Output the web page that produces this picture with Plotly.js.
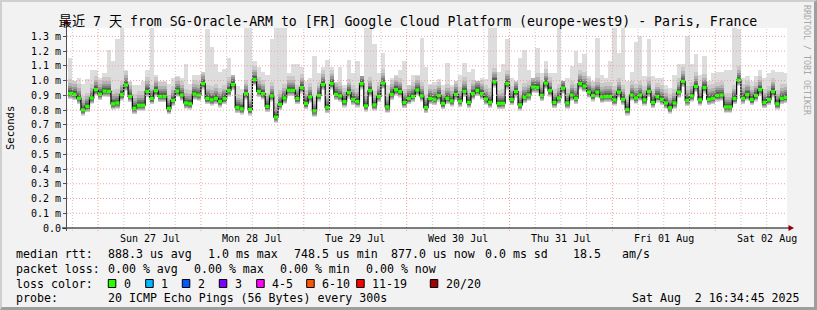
<!DOCTYPE html>
<html><head><meta charset="utf-8">
<script src="https://cdn.plot.ly/plotly-3.0.1.min.js"></script>
<style>
html,body{margin:0;padding:0;background:#f2f2f2;}
#wrap{position:relative;width:817px;height:310px;overflow:hidden}
#chart{width:817px;height:310px}
#frame{position:absolute;left:0;top:0;width:817px;height:310px;box-sizing:border-box;border-top:2px solid #cfcfcf;border-left:2px solid #cfcfcf;border-right:3px solid #9e9e9e;border-bottom:3px solid #9e9e9e;pointer-events:none}
</style></head><body>
<div id="wrap"><div id="chart"></div><div id="frame"></div></div>
<script>
// ---- data ----
const viewStart = '2025-07-26 16:45:00';
const viewEnd   = '2025-08-02 16:45:00';
const firstBinStart = '2025-07-26 17:00:00';
const binHours = 1;
// median rtt per hourly bin (ms)
const med = [
0.913,0.907,0.880,0.801,0.824,0.882,0.938,0.907,0.929,0.927,
0.842,0.848,0.904,0.970,0.893,0.812,0.833,0.833,0.927,0.878,
0.931,0.893,0.893,0.810,0.866,0.929,0.902,0.848,0.842,0.909,
0.902,0.979,0.878,0.869,0.880,0.857,0.878,0.931,0.974,0.817,
0.808,0.911,0.803,1.006,0.927,0.911,0.824,0.896,0.752,0.839,
0.882,0.934,0.934,0.878,0.952,0.844,0.889,0.794,0.898,0.974,
0.817,0.979,0.907,0.896,0.857,0.918,0.873,0.857,0.979,0.828,
0.931,0.835,0.893,0.983,0.821,0.907,0.938,0.925,0.851,0.878,
0.893,0.936,0.896,0.817,0.878,0.873,0.898,0.844,0.880,0.862,
0.907,0.860,0.927,0.851,0.911,0.934,0.911,0.875,0.853,0.992,
0.844,0.846,0.979,0.871,0.925,0.835,0.887,0.902,0.956,0.954,
0.900,0.983,0.931,0.851,0.882,0.949,0.848,0.902,0.880,0.979,
0.963,0.922,0.898,0.922,0.889,0.893,0.893,0.869,0.922,0.873,
0.803,0.902,0.882,0.902,0.869,0.927,0.851,0.891,0.873,0.848,
0.815,0.848,0.922,0.994,0.866,0.896,0.961,0.869,0.952,0.873,
0.880,0.898,0.902,0.821,0.821,0.878,1.003,0.880,0.904,0.871,
0.898,0.938,0.851,0.871,0.925,0.842,0.880,0.885];
// max rtt (top of smoke) per bin (ms)
const maxRtt = [
1.15,1.00,1.02,0.98,1.01,1.07,1.07,1.02,1.05,1.21,
1.13,1.28,1.36,1.07,1.00,0.97,0.97,1.00,1.07,1.36,
1.04,1.00,1.00,0.98,1.02,1.03,1.02,1.11,0.98,1.04,
1.04,1.06,1.35,1.23,1.11,1.06,1.08,1.15,1.04,0.96,
0.94,1.36,1.36,1.13,1.09,1.06,1.04,1.28,1.36,1.36,
1.36,1.05,1.11,1.11,1.09,1.00,1.02,1.17,1.05,1.09,
1.14,1.09,0.99,1.09,0.97,1.14,1.05,1.13,1.03,1.36,
1.36,1.25,1.05,1.19,0.97,1.02,1.035,1.07,1.13,0.97,
1.04,1.04,1.29,1.09,0.98,0.99,1.01,0.97,1.12,0.97,
1.00,1.04,1.12,1.06,1.08,1.00,1.02,1.01,1.36,1.36,
1.06,1.11,1.28,1.02,1.00,1.15,1.21,1.07,1.02,1.22,
1.05,1.13,1.05,1.05,1.36,1.00,1.02,1.10,1.20,1.12,
1.18,1.03,1.00,1.29,1.04,1.02,1.13,1.36,1.19,1.36,
1.00,1.06,1.26,1.30,1.03,1.28,1.03,1.02,1.02,0.97,
0.95,1.04,1.11,1.11,1.30,1.11,1.18,1.04,1.17,1.00,
1.05,1.06,1.06,1.07,1.07,1.36,1.35,1.02,1.03,1.00,
1.03,1.07,1.02,1.05,1.07,1.06,1.06,1.05];
const yTickVals = [0,0.1,0.2,0.3,0.4,0.5,0.6,0.7,0.8,0.9,1.0,1.1,1.2,1.3];
const yTickText = ['0.0','0.1 m','0.2 m','0.3 m','0.4 m','0.5 m','0.6 m','0.7 m','0.8 m','0.9 m','1.0 m','1.1 m','1.2 m','1.3 m'];
const dayLabels = ['Sun 27 Jul','Mon 28 Jul','Tue 29 Jul','Wed 30 Jul','Thu 31 Jul','Fri 01 Aug','Sat 02 Aug'];
const dayNoons = ['2025-07-27 12:00','2025-07-28 12:00','2025-07-29 12:00','2025-07-30 12:00','2025-07-31 12:00','2025-08-01 12:00','2025-08-02 12:00'];
const statRow1 = [['median rtt:',15.7],['888.3 us avg',107.3],['1.0 ms max',207],['748.5 us min',293.3],['877.0 us now',390],['0.0 ms sd',484],['18.5',572.7],['am/s',621]];
const statRow2 = [['packet loss:',15.7],['0.00 % avg',107.3],['0.00 % max',193.3],['0.00 % min',279.3],['0.00 % now',365.7]];
const lossLabels = ['0','1','2','3','4-5','6-10','11-19','20/20'];
const lossColors = ['#26ff00','#00b8ff','#0059ff','#7e00ff','#ff00ff','#ff5500','#ff0000','#a10000'];
const lossBoxX = [108.3,145.7,182.3,219.3,256.7,306.7,356.7,430.3];
const lossTextX = [123.3,160.7,197.7,234.7,271.7,321.7,371.7,445];
const probeText = '20 ICMP Echo Pings (56 Bytes) every 300s';
const dateText = 'Sat Aug\u00a0\u00a02 16:34:45 2025';
const titleText = '最近 7 天 from SG-Oracle-ARM to [FR] Google Cloud Platform (europe-west9) - Paris, France';

// ---- helpers ----
const MONO = 'DejaVu Sans Mono, Noto Sans CJK SC, monospace';
const L=67, R=787, T=28, B=228;
const px = p => (p-L)/(R-L);
const py = p => (B-p)/(B-T);
const toMs = s => Date.parse(s.replace(' ','T')+'Z');
const toStr = ms => new Date(ms).toISOString().replace('T',' ').slice(0,19);
const H = 3600000*binHours;
const t0 = toMs(firstBinStart);
const n = med.length;
const binStart = med.map((_,i)=>toStr(t0+i*H));
const binMid = med.map((_,i)=>toStr(t0+i*H+H/2));

// smoke shading (style offsets around median, outer -> inner)
const smoke = [
  {dn:0.040, up:null,  c:'#dddddd'},
  {dn:0.036, up:0.095, c:'#cacaca'},
  {dn:0.031, up:0.068, c:'#b2b2b2'},
  {dn:0.026, up:0.050, c:'#979797'},
  {dn:0.020, up:0.035, c:'#7a7a7a'},
  {dn:0.014, up:0.023, c:'#5c5c5c'},
  {dn:0.008, up:0.013, c:'#3e3e3e'}
];
const traces = [];
smoke.forEach(b=>{
  const base = med.map(m=>m-b.dn);
  const h = med.map((m,i)=>{
    const top = b.up===null ? maxRtt[i] : Math.min(m+b.up, maxRtt[i]);
    return Math.max(top-(m-b.dn),0);
  });
  traces.push({type:'bar',x:binMid,y:h,base:base,width:med.map(()=>H),
    marker:{color:b.c,line:{width:0}},hoverinfo:'skip',showlegend:false});
});
// black step connector
traces.push({type:'scatter',mode:'lines',x:binStart.concat([toStr(t0+n*H)]),y:med.concat([med[n-1]]),
  line:{shape:'hv',color:'#000000',width:1.2},hoverinfo:'skip',showlegend:false});
// green median segments
const gx=[],gy=[];
med.forEach((m,i)=>{gx.push(toStr(t0+i*H),toStr(t0+(i+1)*H),null);gy.push(m,m,null);});
traces.push({type:'scatter',mode:'lines',x:gx,y:gy,line:{color:lossColors[0],width:3.4},hoverinfo:'skip',showlegend:false});

// ---- grid & axes shapes ----
const shapes=[];
yTickVals.slice(1).forEach(v=>shapes.push({type:'line',xref:'paper',yref:'y',x0:0,x1:1,y0:v,y1:v,
  line:{color:'#f2a0a0',width:1,dash:'1px,2px'},layer:'above'}));
for(let t=toMs('2025-07-26 18:00:00'); t<toMs(viewEnd); t+=6*3600000){
  const midnight = new Date(t).getUTCHours()===0;
  shapes.push({type:'line',xref:'x',yref:'paper',x0:toStr(t),x1:toStr(t),y0:py(231),y1:1,
    line:{color: midnight?'#f2a0a0':'#c8c8c8',width:1,dash:'1px,2px'},layer:'above'});
}
shapes.push({type:'line',xref:'paper',yref:'paper',x0:px(62),x1:px(790),y0:0,y1:0,line:{color:'#000',width:1},layer:'above'});
shapes.push({type:'line',xref:'paper',yref:'paper',x0:px(66.5),x1:px(66.5),y0:py(231),y1:py(21),line:{color:'#505050',width:1},layer:'above'});
shapes.push({type:'path',xref:'paper',yref:'paper',
  path:`M ${px(788.5)} ${py(225)} L ${px(794)} ${py(228)} L ${px(788.5)} ${py(231)} Z`,
  fillcolor:'#8b0000',line:{width:0},layer:'above'});
shapes.push({type:'path',xref:'paper',yref:'paper',
  path:`M ${px(63.5)} ${py(24.5)} L ${px(66.5)} ${py(19)} L ${px(69.5)} ${py(24.5)} Z`,
  fillcolor:'#8b0000',line:{width:0},layer:'above'});
lossColors.forEach((c,i)=>shapes.push({type:'rect',xref:'paper',yref:'paper',
  x0:px(lossBoxX[i]),x1:px(lossBoxX[i]+7.5),y0:py(287.5),y1:py(279.5),fillcolor:c,line:{color:'#000',width:1}}));

// ---- text ----
const ann=[];
const txt=(s,x,y,opt={})=>ann.push(Object.assign({text:s,xref:'paper',yref:'paper',x:px(x),y:py(y),
  xanchor:'left',yanchor:'middle',showarrow:false,borderpad:0,
  font:{family:MONO,size:11.6,color:'#000'}},opt));
statRow1.forEach(([s,x])=>txt(s,x-0.5,254));
statRow2.forEach(([s,x])=>txt(s,x-0.5,269));
txt('loss color:',15.2,283.5);
lossLabels.forEach((s,i)=>txt(s,lossTextX[i]-0.5,283.5));
txt('probe:',15.2,297.5);
txt(probeText,106.8,297.5);
txt(dateText,800.5,297.5,{xanchor:'right'});
dayLabels.forEach((s,i)=>ann.push({text:s,xref:'x',yref:'paper',x:dayNoons[i],y:py(238),xanchor:'center',yanchor:'middle',
  showarrow:false,borderpad:0,font:{family:MONO,size:10,color:'#000'}}));
txt('Seconds',10,128,{xanchor:'center',textangle:-90,font:{family:MONO,size:10.5,color:'#000'}});
txt('RRDTOOL / TOBI OETIKER',807,60,{xanchor:'center',textangle:90,font:{family:MONO,size:8.3,color:'#a8a8a8'}});

const layout={
  width:817,height:310,
  margin:{l:L,r:817-R,t:T,b:310-B,pad:0},
  paper_bgcolor:'#f2f2f2',plot_bgcolor:'#ffffff',
  title:{text:titleText,x:408/817,xref:'container',xanchor:'center',y:1-21/310,yref:'container',yanchor:'middle',
    font:{family:MONO,size:13.2,color:'#000'}},
  barmode:'overlay',bargap:0,showlegend:false,
  xaxis:{type:'date',range:[viewStart,viewEnd],showgrid:false,zeroline:false,showline:false,
    showticklabels:false,ticks:'',fixedrange:true},
  yaxis:{range:[0,1.3565],tickvals:yTickVals,ticktext:yTickText,ticks:'outside',ticklen:3,tickcolor:'#505050',
    tickfont:{family:MONO,size:10,color:'#000'},showgrid:false,zeroline:false,showline:false,fixedrange:true},
  shapes:shapes,annotations:ann
};
layout.xaxis.title={text:''};layout.yaxis.title={text:''};
Plotly.newPlot('chart',traces,layout,{staticPlot:true,displayModeBar:false});
</script></body></html>
